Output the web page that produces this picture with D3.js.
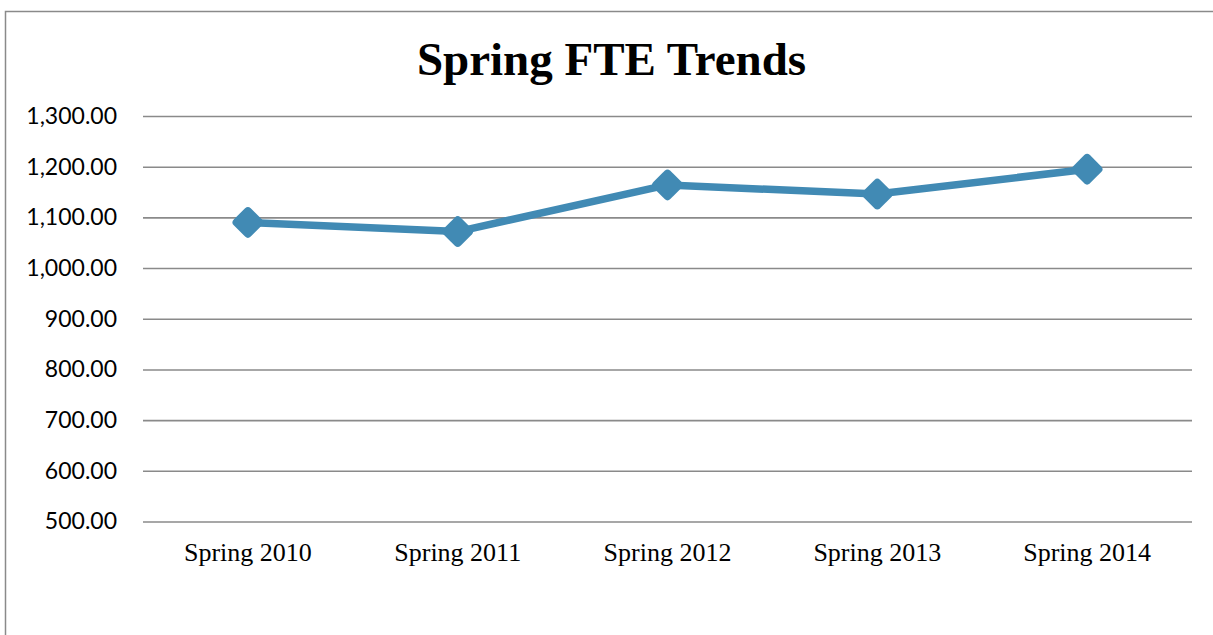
<!DOCTYPE html>
<html>
<head>
<meta charset="utf-8">
<script src="https://cdn.jsdelivr.net/npm/d3@7/dist/d3.min.js"></script>
<style>
  html, body { margin: 0; padding: 0; background: #fff; }
  svg { display: block; }
</style>
</head>
<body>
<svg id="chart" width="1213" height="635"></svg>
<script>
const title = "Spring FTE Trends";
const categories = ["Spring 2010", "Spring 2011", "Spring 2012", "Spring 2013", "Spring 2014"];
const fteValues = [1090, 1072, 1164, 1146, 1195];
const yTicks = [500, 600, 700, 800, 900, 1000, 1100, 1200, 1300];

const svg = d3.select("#chart");
const W = 1213, H = 635;
const plot = { left: 143, right: 1192, top: 116, bottom: 521.5 };

// outer frame
svg.append("rect")
  .attr("x", 5.5).attr("y", 11.5)
  .attr("width", W + 20).attr("height", H + 20)
  .attr("fill", "#fff")
  .attr("stroke", "#8a8a8a").attr("stroke-width", 1.5);

// title
svg.append("text")
  .attr("x", (415 + 808) / 2).attr("y", 75)
  .attr("text-anchor", "middle")
  .attr("font-family", "'Liberation Serif', 'Times New Roman', serif")
  .attr("font-weight", "bold")
  .attr("font-size", 47)
  .attr("fill", "#000")
  .text(title);

const x = d3.scaleBand().domain(categories).range([plot.left, plot.right]).padding(0);
const y = d3.scaleLinear().domain([500, 1300]).range([plot.bottom, plot.top]);

// y axis with gridlines
const yAxis = svg.append("g")
  .attr("transform", `translate(${plot.left},0)`)
  .call(d3.axisLeft(y).tickValues(yTicks).tickFormat(d3.format(",.2f"))
    .tickSizeInner(-(plot.right - plot.left)).tickSizeOuter(0).tickPadding(26));
yAxis.select(".domain").remove();
yAxis.selectAll(".tick line").attr("stroke", "#8a8a8a").attr("stroke-width", 1.6);
yAxis.selectAll(".tick text")
  .attr("font-family", "Lato, 'Open Sans', sans-serif")
  .attr("font-size", 23)
  .attr("fill", "#000");

// x axis
const xAxis = svg.append("g")
  .attr("transform", `translate(0,${plot.bottom})`)
  .call(d3.axisBottom(x).tickSize(0).tickPadding(0));
xAxis.select(".domain").remove();
xAxis.selectAll(".tick text")
  .attr("font-family", "'Liberation Serif', 'Times New Roman', serif")
  .attr("font-size", 26)
  .attr("fill", "#000")
  .attr("dy", null)
  .attr("y", 39.5);

const color = "#418ab4";
const data = categories.map((c, i) => ({ c, v: fteValues[i] }));

const line = d3.line()
  .x(d => x(d.c) + x.bandwidth() / 2)
  .y(d => y(d.v));

svg.append("path")
  .datum(data)
  .attr("d", line)
  .attr("fill", "none")
  .attr("stroke", color)
  .attr("stroke-width", 7.5)
  .attr("stroke-linejoin", "round");

const s = 24;
svg.append("g").selectAll("rect")
  .data(data)
  .join("rect")
  .attr("x", -s / 2).attr("y", -s / 2)
  .attr("width", s).attr("height", s)
  .attr("rx", 4).attr("ry", 4)
  .attr("fill", color)
  .attr("transform", d => `translate(${x(d.c) + x.bandwidth() / 2},${y(d.v)}) rotate(45)`);
</script>
</body>
</html>
